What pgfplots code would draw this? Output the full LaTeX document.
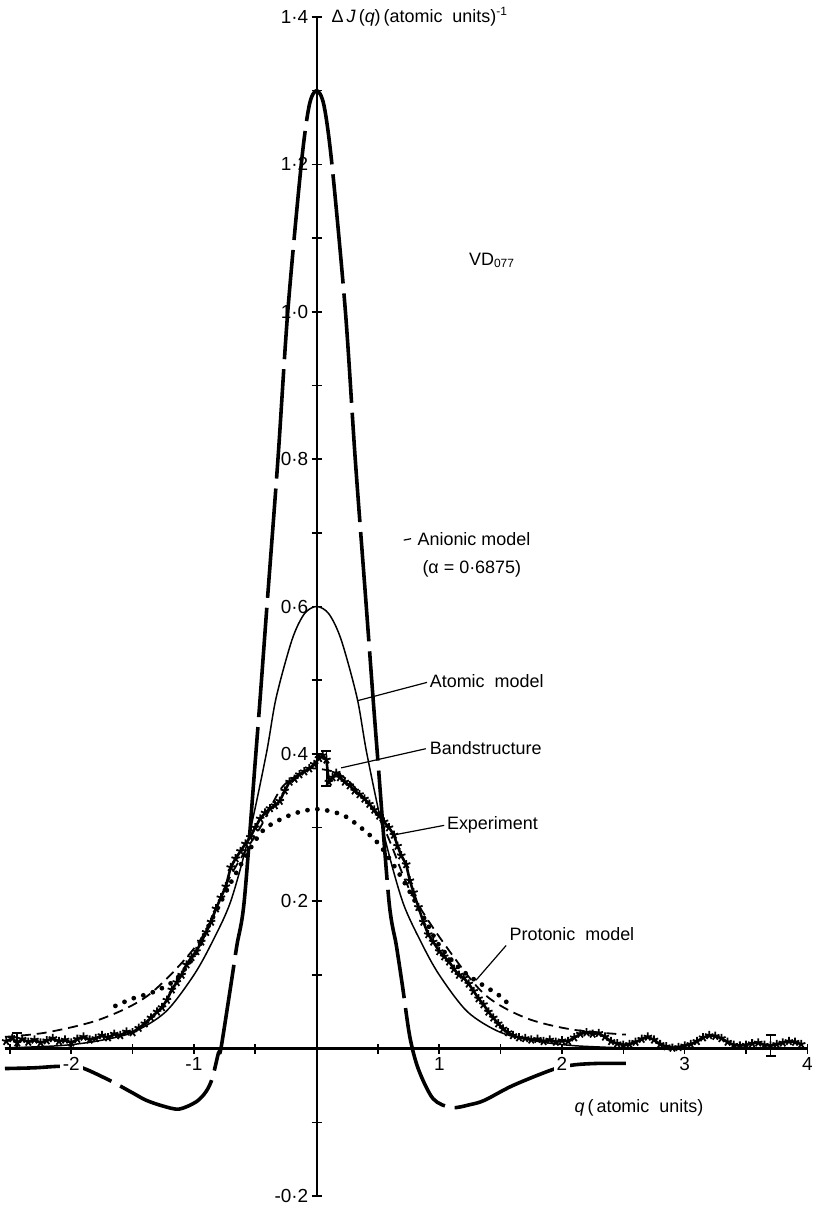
\documentclass[border=0pt]{standalone}
\usepackage{fontspec}
\setmainfont{Liberation Sans}
\usepackage{pgfplots}
\pgfplotsset{compat=1.18}
\begin{document}
\begin{tikzpicture}
\useasboundingbox (-2.5pt,-5.5pt) rectangle (406pt,600pt);
\begin{axis}[
  scale only axis, width=402.5pt, height=591.5pt,
  xmin=-2.54, xmax=4.0, ymin=-0.2, ymax=1.4,
  axis lines*=middle,
  axis on top,
  clip mode=individual,
  x axis line style={line width=1.5pt,-},
  y axis line style={line width=1pt,-},
  xtick={-2,-1,0,1,2,3,4}, xticklabels={-2,-1,0,1,2,3,4},
  minor xtick={-2.5,-1.5,-0.5,0.5,1.5,2.5,3.5},
  ytick={-0.2,0.2,0.4,0.6,0.8,1.0,1.2,1.4},
  yticklabels={-0·2,0·2,0·4,0·6,0·8,1·0,1·2,1·4},
  minor ytick={-0.1,0.1,0.3,0.5,0.7,0.9,1.1,1.3},
  tick align=center,
  major tick length=5pt, minor tick length=5pt,
  every tick/.style={black, line width=0.8pt},
  xticklabel style={font=\fontsize{9.5}{10}\selectfont, fill=white, inner sep=1.5pt},
  yticklabel style={font=\fontsize{9.5}{10}\selectfont, inner sep=1.5pt},
]
% Anionic model
\addplot[black, line width=1.8pt, dash pattern=on 55pt off 5pt, smooth] coordinates {
(-2.54,-0.027)(-2.3,-0.026)(-2.1,-0.024)(-1.93,-0.025)(-1.7,-0.042)(-1.5,-0.060)(-1.39,-0.070)(-1.25,-0.078)(-1.12,-0.082)(-0.98,-0.072)(-0.90,-0.058)(-0.85,-0.040)(-0.80,-0.006)(-0.78,0.0)(-0.70,0.085)(-0.65,0.14)(-0.59,0.20)(-0.5,0.39)(-0.46,0.476)(-0.405,0.60)(-0.315,0.80)(-0.235,1.00)(-0.125,1.20)(-0.06,1.28)(0,1.30)
(0.06,1.28)(0.125,1.20)(0.235,1.00)(0.315,0.80)(0.405,0.60)(0.46,0.476)(0.5,0.39)(0.59,0.20)(0.65,0.14)(0.70,0.085)(0.76,0.016)(0.83,-0.028)(0.95,-0.068)(1.10,-0.080)(1.25,-0.076)(1.37,-0.070)(1.6,-0.050)(1.93,-0.028)(2.1,-0.022)(2.3,-0.020)(2.52,-0.020)};
% Atomic model
\addplot[black, line width=0.75pt, smooth] coordinates {
(-2.54,0.001)(-2.1,0.004)(-1.8,0.010)(-1.5,0.022)(-1.23,0.05)(-1.0,0.10)(-0.85,0.145)(-0.7,0.20)(-0.55,0.29)(-0.41,0.40)(-0.33,0.476)(-0.2,0.555)(-0.1,0.590)(0,0.600)
(0.1,0.590)(0.2,0.555)(0.33,0.476)(0.41,0.40)(0.55,0.29)(0.7,0.20)(0.85,0.145)(1.0,0.10)(1.23,0.05)(1.5,0.022)(1.8,0.010)(2.1,0.004)(2.5,0.001)};
% Bandstructure (dashed)
\addplot[black, line width=0.9pt, dash pattern=on 5pt off 3pt, smooth] coordinates {
(-2.54,0.016)(-2.2,0.022)(-1.76,0.04)(-1.36,0.074)(-0.95,0.147)(-0.7,0.235)(-0.46,0.30)(-0.28,0.355)(-0.08,0.378)(0,0.38)(0.15,0.375)(0.28,0.36)(0.5,0.315)(0.6,0.28)(0.76,0.215)(1.02,0.147)(1.36,0.075)(1.7,0.042)(2.08,0.026)(2.52,0.019)};
% Protonic model (dotted)
\addplot[black, line width=2.4pt, dash pattern=on 0pt off 5pt, line cap=round, smooth] coordinates {
(-1.64,0.058)(-1.5,0.068)(-1.36,0.075)(-1.25,0.083)(-1.14,0.095)(-1.0,0.125)(-0.9,0.16)(-0.7,0.225)(-0.52,0.277)(-0.41,0.30)(-0.2,0.318)(0,0.325)(0.2,0.318)(0.33,0.304)(0.51,0.277)(0.7,0.23)(0.9,0.17)(1.0,0.14)(1.16,0.11)(1.3,0.092)(1.49,0.072)(1.6,0.054)};
% Experiment (stars)
\addplot[black, line width=1.3pt, mark=star, mark size=2.2pt, mark options={line width=0.9pt}] coordinates {
(-2.53,0.010)(-2.48,0.014)(-2.44,0.008)(-2.40,0.013)(-2.35,0.009)(-2.30,0.012)(-2.25,0.008)(-2.20,0.011)(-2.15,0.014)(-2.10,0.010)(-2.05,0.012)(-2.00,0.008)(-1.95,0.013)(-1.90,0.016)(-1.85,0.012)(-1.80,0.014)(-1.75,0.018)(-1.70,0.015)(-1.65,0.020)(-1.60,0.018)(-1.55,0.023)(-1.50,0.022)(-1.45,0.028)(-1.40,0.034)(-1.35,0.042)(-1.30,0.050)(-1.26,0.056)(-1.22,0.066)(-1.18,0.080)(-1.14,0.090)(-1.10,0.100)(-1.06,0.114)(-1.02,0.124)(-0.98,0.132)(-0.94,0.145)(-0.90,0.158)(-0.86,0.172)(-0.82,0.190)(-0.78,0.205)(-0.74,0.220)(-0.70,0.246)(-0.66,0.258)(-0.62,0.268)(-0.58,0.278)(-0.54,0.287)(-0.50,0.300)(-0.46,0.312)(-0.42,0.320)(-0.38,0.326)(-0.34,0.330)(-0.30,0.336)(-0.26,0.350)(-0.22,0.362)(-0.18,0.366)(-0.14,0.372)(-0.10,0.376)(-0.06,0.380)(-0.02,0.386)(0.02,0.394)(0.05,0.398)(0.08,0.392)(0.10,0.362)(0.13,0.368)(0.16,0.374)(0.19,0.368)(0.23,0.362)(0.27,0.357)(0.31,0.350)(0.35,0.345)(0.39,0.339)(0.43,0.332)(0.47,0.324)(0.51,0.316)(0.55,0.308)(0.59,0.300)(0.63,0.290)(0.66,0.275)(0.69,0.262)(0.73,0.250)(0.76,0.228)(0.79,0.212)(0.83,0.192)(0.87,0.172)(0.91,0.155)(0.95,0.145)(1.00,0.132)(1.04,0.125)(1.08,0.118)(1.12,0.108)(1.16,0.100)(1.20,0.096)(1.24,0.088)(1.28,0.078)(1.32,0.068)(1.36,0.060)(1.40,0.050)(1.44,0.042)(1.48,0.034)(1.52,0.027)(1.56,0.022)(1.60,0.018)(1.65,0.015)(1.70,0.014)(1.75,0.012)(1.80,0.013)(1.85,0.010)(1.90,0.012)(1.95,0.009)(2.00,0.011)(2.05,0.010)(2.10,0.015)(2.15,0.020)(2.20,0.022)(2.25,0.020)(2.30,0.021)(2.35,0.016)(2.40,0.010)(2.45,0.007)(2.50,0.005)(2.55,0.006)(2.60,0.009)(2.65,0.013)(2.70,0.016)(2.75,0.012)(2.80,0.006)(2.85,0.003)(2.90,0.001)(2.95,0.002)(3.00,0.004)(3.05,0.006)(3.10,0.010)(3.15,0.015)(3.20,0.018)(3.25,0.017)(3.30,0.014)(3.35,0.009)(3.40,0.005)(3.45,0.004)(3.50,0.005)(3.55,0.007)(3.60,0.008)(3.65,0.005)(3.70,0.004)(3.75,0.006)(3.80,0.008)(3.85,0.010)(3.90,0.009)(3.95,0.006)};
% error bars
\addplot[draw=none, mark=none, error bars/.cd, y dir=both, y explicit,
  error bar style={black, line width=0.9pt}, error mark options={black, line width=0.9pt, rotate=90, mark size=2.5pt}]
  coordinates {(0.08,0.38) +- (0,0.024) (3.7,0.004) +- (0,0.014) (-2.44,0.011) +- (0,0.01)};
% annotations
\draw[line width=0.6pt] (axis cs:0.71,0.690) -- (axis cs:0.77,0.692);
\node[anchor=west, font=\fontsize{9}{10}\selectfont, inner sep=0pt] at (axis cs:0.82,0.692) {Anionic model};
\node[anchor=west, font=\fontsize{9}{10}\selectfont, inner sep=0pt] at (axis cs:0.86,0.651) {(α = 0·6875)};
\draw[line width=0.6pt] (axis cs:0.33,0.472) -- (axis cs:0.90,0.497);
\node[anchor=west, font=\fontsize{9}{10}\selectfont, inner sep=0pt] at (axis cs:0.92,0.499) {Atomic\ \ model};
\draw[line width=0.6pt] (axis cs:0.20,0.381) -- (axis cs:0.89,0.407);
\node[anchor=west, font=\fontsize{9}{10}\selectfont, inner sep=0pt] at (axis cs:0.92,0.408) {Bandstructure};
\draw[line width=0.6pt] (axis cs:0.63,0.29) -- (axis cs:1.04,0.303);
\node[anchor=west, font=\fontsize{9}{10}\selectfont, inner sep=0pt] at (axis cs:1.06,0.303) {Experiment};
\draw[line width=0.6pt] (axis cs:1.30,0.093) -- (axis cs:1.545,0.14);
\node[anchor=west, font=\fontsize{9}{10}\selectfont, inner sep=0pt] at (axis cs:1.57,0.155) {Protonic\ \ model};
\node[anchor=west, font=\fontsize{9}{10}\selectfont, inner sep=0pt] at (axis cs:1.24,1.07) {VD\textsubscript{077}};
\node[anchor=west, font=\fontsize{9}{10}\selectfont, inner sep=0pt] at (axis cs:0.12,1.4) {Δ\,\textit{J}\,(\textit{q})\,(atomic\ \ units)\textsuperscript{-1}};
\node[anchor=west, font=\fontsize{9}{10}\selectfont, inner sep=0pt] at (axis cs:2.1,-0.081) {\textit{q}\,(\,atomic\ \ units)};
\end{axis}
\end{tikzpicture}
\end{document}
